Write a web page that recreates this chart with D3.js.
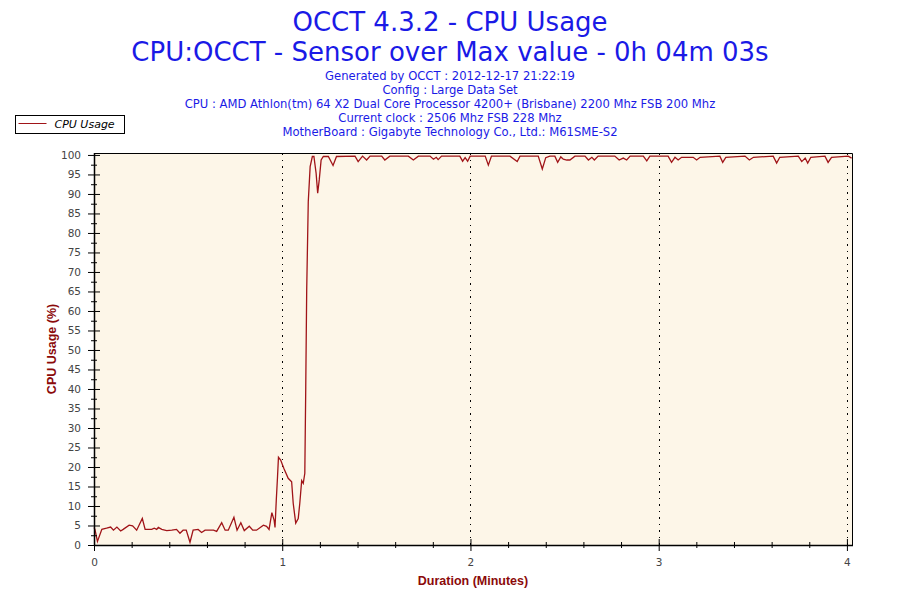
<!DOCTYPE html>
<html>
<head>
<meta charset="utf-8">
<script src="https://cdn.jsdelivr.net/npm/d3@7"></script>
<style>
  body { margin: 0; background: #fff; }
  svg { font-family: "DejaVu Sans", Verdana, sans-serif; }
</style>
</head>
<body>
<div id="app"></div>
<script>
// Sensor samples: seconds since start and CPU usage in %
const seconds = [
  0, 0.3, 1.1, 2.5, 4, 5.3, 6.2, 7.3, 8.5, 9.3, 11.2, 12.3, 13.6, 15.4, 16.3,
  18.4, 19.2, 20.0, 20.5, 21.6, 23.2, 24.8, 26.3, 27.4, 28.4, 29.4, 30.6, 31.6,
  33.2, 34.3, 35.4, 38.1, 39.1, 40.7, 41.8, 42.8, 44.6, 45.6, 46.8, 47.9, 49.5,
  50.6, 51.8, 54.0, 55.0, 55.8, 56.7, 57.4, 57.7, 58.1, 58.5, 58.8, 59.5, 60.5,
  61.9, 63.0, 63.5, 64.3, 65.1, 65.6, 66.2, 66.7, 67.2, 67.5, 67.8, 68.3, 68.9,
  69.6, 70.1, 70.8, 71.3, 71.8, 72.4, 73.1, 74.7, 76.2, 77.3, 83.2, 84.2, 85.6,
  86.9, 88.0, 91.7, 92.7, 94.3, 100.2, 101.8, 103.4, 107.1, 108.2, 109.1, 109.7,
  110.8, 116.6, 117.5, 118.3, 119.1, 119.9, 124.7, 125.7, 126.7, 132.6, 134.9,
  135.8, 141.6, 142.9, 144.0, 145.3, 146.9, 147.8, 148.8, 149.6, 150.7, 151.7,
  153.3, 156.5, 157.6, 158.7, 159.5, 160.7, 166.0, 167.4, 168.7, 169.8, 170.9,
  175.1, 176.2, 177.2, 183.0, 184.1, 185.2, 186.2, 187.3, 191.0, 192.1, 193.2,
  199.5, 200.4, 201.4, 207.5, 208.9, 210.2, 216.5, 217.6, 218.6, 224.5, 225.6,
  226.7, 227.5, 228.5, 233.0, 234.0, 235.1, 240.4, 241.5
];
const cpuUsage = [
  4.5, 4.0, 0.9, 4.0, 4.3, 4.6, 3.8, 4.6, 3.6, 4.0, 5.1, 4.9, 3.8, 6.8, 4.0,
  4.0, 4.3, 4.0, 4.5, 4.0, 3.7, 3.8, 4.0, 3.0, 3.8, 3.8, 0.7, 3.8,
  4.0, 3.2, 3.8, 3.8, 3.5, 5.7, 3.8, 3.8, 7.1, 3.8, 5.7, 3.7, 4.8,
  3.8, 3.8, 5.1, 4.8, 4.0, 8.3, 6.4, 4.5, 11.4, 17.5, 22.5, 21.8, 19.7,
  17.1, 16.2, 10.7, 5.6, 6.8, 10.7, 16.5, 15.8, 18.4, 40.6, 65.4, 88.0, 97.0,
  99.6, 99.6, 95.3, 90.2, 93.6, 98.7, 99.6, 99.6, 97.3, 99.6, 99.7, 98.3, 99.7,
  98.7, 99.7, 99.7, 98.7, 99.7, 99.7, 98.7, 99.7, 99.7, 98.9, 99.4, 98.8,
  99.7, 99.7, 98.4, 99.3, 98.4, 99.7, 99.7, 97.4, 99.7, 99.7, 98.3,
  99.7, 99.7, 96.4, 99.3, 99.7, 99.7, 98.1, 99.5, 98.9, 98.7, 98.7,
  99.7, 99.7, 98.7, 99.4, 98.7, 99.7, 99.7, 98.7, 99.2, 98.7, 99.7,
  99.7, 98.5, 99.7, 99.7, 98.1, 99.4, 98.7, 99.4, 99.4, 98.7, 99.4,
  99.7, 98.1, 99.4, 99.7, 98.7, 99.4, 99.7, 97.9, 99.4, 99.7, 98.3,
  99.2, 97.9, 99.4, 99.7, 98.1, 99.4, 99.7, 99.2
];
const xTicks = [0, 1, 2, 3, 4];
const yTicks = [0, 5, 10, 15, 20, 25, 30, 35, 40, 45, 50, 55, 60, 65, 70, 75, 80, 85, 90, 95, 100];
const subtitles = [
  "Generated by OCCT : 2012-12-17 21:22:19",
  "Config : Large Data Set",
  "CPU : AMD Athlon(tm) 64 X2 Dual Core Processor 4200+ (Brisbane) 2200 Mhz FSB 200 Mhz",
  "Current clock : 2506 Mhz FSB 228 Mhz",
  "MotherBoard : Gigabyte Technology Co., Ltd.: M61SME-S2"
];

const width = 900;
const height = 600;
const plot = { left: 94, right: 852, top: 153, bottom: 545 };
const lineColor = "#a01418";
const titleColor = "#1a1ae6";
const labelColor = "#8b0a0a";

const data = seconds.map((s, i) => ({ t: s / 60, v: cpuUsage[i] }));

const xScale = d3.scaleLinear().domain([0, 4.027]).range([plot.left, plot.right]);
const yScale = d3.scaleLinear().domain([0, 100.5]).range([plot.bottom, plot.top]);

const svg = d3.select("#app")
  .append("svg")
  .attr("width", width)
  .attr("height", height);

// Titles
svg.append("text")
  .attr("x", 450).attr("y", 31)
  .attr("text-anchor", "middle")
  .attr("font-size", 26)
  .attr("fill", titleColor)
  .text("OCCT 4.3.2 - CPU Usage");

svg.append("text")
  .attr("x", 450).attr("y", 61)
  .attr("text-anchor", "middle")
  .attr("font-size", 26)
  .attr("fill", titleColor)
  .text("CPU:OCCT - Sensor over Max value - 0h 04m 03s");

svg.selectAll(".subtitle")
  .data(subtitles)
  .enter()
  .append("text")
  .attr("class", "subtitle")
  .attr("x", 450)
  .attr("y", (d, i) => 80 + i * 14)
  .attr("text-anchor", "middle")
  .attr("font-size", 11.6)
  .attr("fill", titleColor)
  .text((d) => d);

// Plot background
svg.append("rect")
  .attr("x", plot.left).attr("y", plot.top)
  .attr("width", plot.right - plot.left)
  .attr("height", plot.bottom - plot.top)
  .attr("fill", "#fdf6e8");

// Dotted vertical grid lines at each minute
svg.selectAll(".grid")
  .data(xTicks.filter((d) => d > 0))
  .enter()
  .append("line")
  .attr("class", "grid")
  .attr("x1", (d) => Math.round(xScale(d)) + 0.5)
  .attr("x2", (d) => Math.round(xScale(d)) + 0.5)
  .attr("y1", plot.top)
  .attr("y2", plot.bottom)
  .attr("stroke", "#000")
  .attr("stroke-width", 1)
  .attr("shape-rendering", "crispEdges")
  .attr("stroke-dasharray", "1.5,5");

// Data line
const line = d3.line()
  .x((d) => xScale(d.t))
  .y((d) => yScale(d.v));

svg.append("path")
  .datum(data)
  .attr("d", line)
  .attr("fill", "none")
  .attr("stroke", lineColor)
  .attr("stroke-width", 1.3);

// Frame (top and right)
svg.append("path")
  .attr("d", `M${plot.left},${plot.top + 0.5}H${plot.right + 0.5}V${plot.bottom}`)
  .attr("fill", "none")
  .attr("stroke", "#000")
  .attr("stroke-width", 1);

// Axes
const yAxis = d3.axisLeft(yScale)
  .tickValues(yTicks)
  .tickSize(6)
  .tickPadding(7);
const yMinor = d3.axisLeft(yScale)
  .tickValues(yTicks.slice(0, -1).map((d) => d + 2.5))
  .tickSize(3)
  .tickFormat("");

const xAxis = d3.axisBottom(xScale)
  .tickValues(xTicks)
  .tickSize(6)
  .tickPadding(8)
  .tickFormat(d3.format("d"));
const xMinor = d3.axisBottom(xScale)
  .tickValues(d3.range(1, 20).filter((d) => d % 5 !== 0).map((d) => d / 5))
  .tickSize(3)
  .tickFormat("");

function styleAxis(g) {
  g.select(".domain").remove();
  g.selectAll("line").attr("stroke", "#000");
  g.selectAll("text")
    .attr("fill", "#444")
    .attr("font-size", 10.5)
    .attr("font-family", "Tahoma, 'DejaVu Sans', sans-serif");
}

const yg = svg.append("g").attr("transform", `translate(${plot.left},0)`).call(yAxis).call(styleAxis);
yg.selectAll(".tick line").attr("x1", 6);
const ym = svg.append("g").attr("transform", `translate(${plot.left},0)`).call(yMinor).call(styleAxis);
ym.selectAll(".tick line").attr("x1", 3);

const xg = svg.append("g").attr("transform", `translate(0,${plot.bottom})`).call(xAxis).call(styleAxis);
xg.selectAll(".tick line").attr("y1", -6);
const xm = svg.append("g").attr("transform", `translate(0,${plot.bottom})`).call(xMinor).call(styleAxis);
xm.selectAll(".tick line").attr("y1", -3);

// Axis lines
svg.append("line")
  .attr("x1", plot.left + 0.5).attr("x2", plot.left + 0.5)
  .attr("y1", plot.top).attr("y2", plot.bottom + 0.5)
  .attr("stroke", "#000").attr("stroke-width", 1.5);
svg.append("line")
  .attr("x1", plot.left).attr("x2", plot.right + 1)
  .attr("y1", plot.bottom + 0.5).attr("y2", plot.bottom + 0.5)
  .attr("stroke", "#000").attr("stroke-width", 1.5);

// Axis titles
svg.append("text")
  .attr("transform", `translate(56,${(plot.top + plot.bottom) / 2}) rotate(-90)`)
  .attr("text-anchor", "middle")
  .attr("font-family", "'Liberation Sans', Arial, sans-serif")
  .attr("font-size", 12.5)
  .attr("font-weight", "bold")
  .attr("fill", labelColor)
  .text("CPU Usage (%)");

svg.append("text")
  .attr("x", 473).attr("y", 585)
  .attr("text-anchor", "middle")
  .attr("font-family", "'Liberation Sans', Arial, sans-serif")
  .attr("font-size", 12.5)
  .attr("font-weight", "bold")
  .attr("fill", labelColor)
  .text("Duration (Minutes)");

// Legend
const legend = svg.append("g").attr("transform", "translate(15.5,115.5)");
legend.append("rect")
  .attr("width", 109).attr("height", 18)
  .attr("fill", "#fff").attr("stroke", "#000");
legend.append("line")
  .attr("x1", 3).attr("x2", 31).attr("y1", 8).attr("y2", 8)
  .attr("stroke", lineColor);
legend.append("text")
  .attr("x", 39).attr("y", 12.5)
  .attr("font-size", 11)
  .attr("font-style", "italic")
  .attr("fill", "#000")
  .text("CPU Usage");
</script>
</body>
</html>
